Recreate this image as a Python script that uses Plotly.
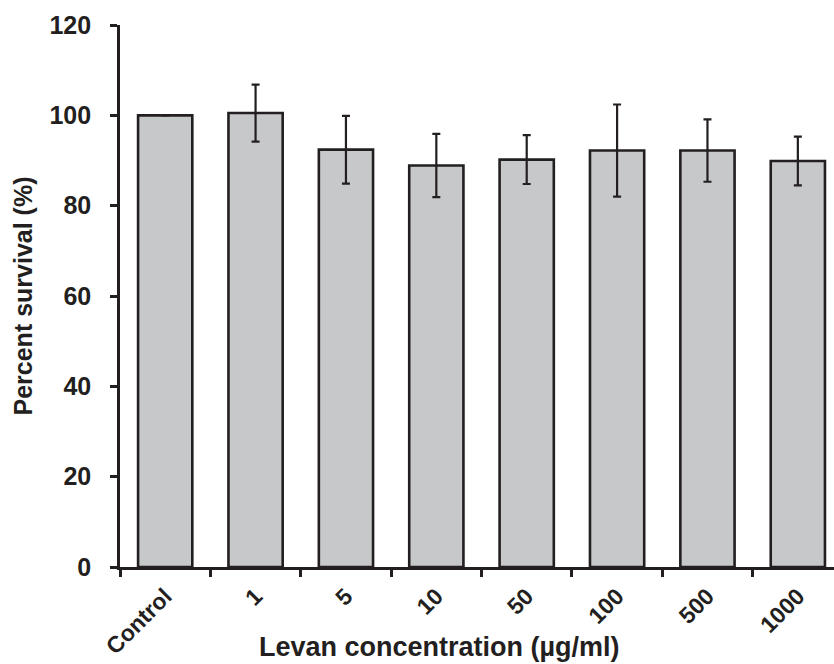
import plotly.graph_objects as go

# Cell survival after levan treatment
categories = ["Control", "1", "5", "10", "50", "100", "500", "1000"]
survival = [100.0, 100.5, 92.4, 88.9, 90.2, 92.2, 92.2, 89.9]
sd = [0.0, 6.3, 7.5, 7.0, 5.4, 10.2, 6.9, 5.4]
y_ticks = [0, 20, 40, 60, 80, 100, 120]

ink = "#231f20"
font_family = "Liberation Sans, Arial, sans-serif"

fig = go.Figure(
    go.Bar(
        x=categories,
        y=survival,
        width=0.6,
        marker=dict(color="#c7c8ca", line=dict(color=ink, width=2.6)),
        error_y=dict(
            type="data",
            array=sd,
            visible=True,
            color=ink,
            thickness=2.2,
            width=4,
        ),
    )
)

fig.update_layout(
    width=834,
    height=664,
    margin=dict(l=120, r=0, t=25, b=97, autoexpand=False),
    plot_bgcolor="white",
    paper_bgcolor="white",
    showlegend=False,
    font=dict(family=font_family, color=ink),
)

fig.update_xaxes(
    type="category",
    range=[-0.5, 7.4],
    automargin=False,
    showline=True,
    linecolor=ink,
    linewidth=2.6,
    ticks="outside",
    tickson="boundaries",
    ticklen=7,
    tickwidth=2.6,
    tickcolor=ink,
    tickangle=-45,
    ticklabelstandoff=4,
    tickfont=dict(size=23, family=font_family, weight="bold", color=ink),
    showgrid=False,
)

fig.update_yaxes(
    range=[0, 120],
    tickvals=y_ticks,
    automargin=False,
    showline=True,
    linecolor=ink,
    linewidth=2.6,
    ticks="outside",
    ticklen=7,
    tickwidth=2.6,
    tickcolor=ink,
    ticklabelstandoff=14,
    tickfont=dict(size=25, family=font_family, weight="bold", color=ink),
    showgrid=False,
    zeroline=False,
    title=dict(
        text="<b>Percent survival (%)</b>",
        font=dict(size=25, family=font_family, color=ink),
        standoff=10,
    ),
)

# x-axis title, placed under the tick labels
fig.add_annotation(
    text="<b>Levan concentration (µg/ml)</b>",
    xref="paper",
    yref="paper",
    x=(439 - 120) / 714,
    y=-(647 - 567) / 542,
    xanchor="center",
    yanchor="middle",
    showarrow=False,
    font=dict(size=27, family=font_family, color=ink),
)

fig.write_html("out.html")
